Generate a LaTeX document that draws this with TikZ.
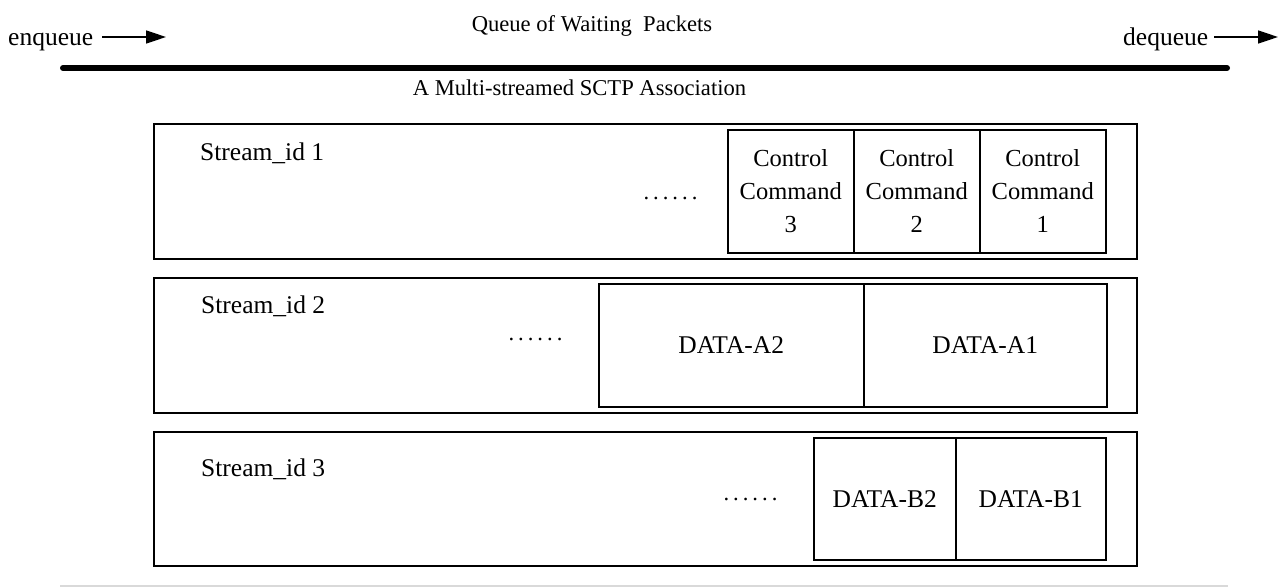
\documentclass[tikz,border=0pt]{standalone}
\usepackage{fontspec}
\setmainfont{Liberation Serif}
\usetikzlibrary{arrows.meta}

\newcommand\sixdots{.\kern4pt.\kern4pt.\kern4pt.\kern4pt.\kern4pt.}

\tikzset{
  lbl/.style={inner sep=0pt, font=\fontsize{22.6}{26}\selectfont},
  biglbl/.style={inner sep=0pt, font=\fontsize{25.5}{30}\selectfont},
  streambox/.style={draw, line width=1.8pt, anchor=north west, inner sep=0pt},
  pktbox/.style={draw, line width=1.5pt, anchor=north west, inner sep=0pt,
    align=center, font=\fontsize{25.5}{30}\selectfont},
  ctrlbox/.style={pktbox, font=\fontsize{24.5}{33}\selectfont},
  flowarrow/.style={line width=1.6pt, -{Triangle[length=20pt,width=13pt]}},
  trunk/.style={line width=6pt, line cap=round},
  rule/.style={draw=black!15, line width=1.2pt}
}

\begin{document}
\begin{tikzpicture}[x=1pt,y=-1pt]
\useasboundingbox (0,0) rectangle (1283,587);

% queue direction
\node[biglbl, anchor=base west] (enq) at (8,45) {enqueue};
\coordinate (enqEnd) at (166,37);
\draw[flowarrow] (enq.east |- enqEnd) ++(9,0) -- (enqEnd);
\node[biglbl, anchor=base west] (deq) at (1123,45) {dequeue};
\coordinate (deqEnd) at (1278,37);
\draw[flowarrow] (deq.east |- deqEnd) ++(6,0) -- (deqEnd);
\node[lbl, anchor=base] (title) at (592,31) {Queue of Waiting\ \ Packets};

% association trunk
\coordinate (trunkL) at (63,68);
\coordinate (trunkR) at (1227,68);
\draw[trunk] (trunkL) -- (trunkR);
\node[lbl, anchor=base] (assoc) at (579.5,95) {A Multi-streamed SCTP Association};

% stream 1
\node[streambox, minimum width=983pt, minimum height=135pt] (s1) at (153,123) {};
\node[biglbl, anchor=base west] (s1lbl) at (200,160) {Stream\_id 1};
\node[lbl, anchor=base] (s1dots) at (670.5,199) {\sixdots};
\node[ctrlbox, minimum width=126pt, minimum height=123pt] (c3) at (727,129) {Control\\Command\\3};
\node[ctrlbox, minimum width=126pt, minimum height=123pt] (c2) at (853,129) {Control\\Command\\2};
\node[ctrlbox, minimum width=126pt, minimum height=123pt] (c1) at (979,129) {Control\\Command\\1};

% stream 2
\node[streambox, minimum width=983pt, minimum height=135pt] (s2) at (153,277) {};
\node[biglbl, anchor=base west] (s2lbl) at (201,313) {Stream\_id 2};
\node[lbl, anchor=base] (s2dots) at (535.5,340) {\sixdots};
\node[pktbox, minimum width=265pt, minimum height=123pt] (a2) at (598,283) {DATA-A2};
\node[pktbox, minimum width=243pt, minimum height=123pt] (a1) at (863,283) {DATA-A1};

% stream 3
\node[streambox, minimum width=983pt, minimum height=134pt] (s3) at (153,431) {};
\node[biglbl, anchor=base west] (s3lbl) at (201,476) {Stream\_id 3};
\node[lbl, anchor=base] (s3dots) at (750.5,500) {\sixdots};
\node[pktbox, minimum width=142pt, minimum height=122pt] (b2) at (813,437) {DATA-B2};
\node[pktbox, minimum width=150pt, minimum height=122pt] (b1) at (955,437) {DATA-B1};

% bottom rule
\coordinate (ruleL) at (60,586);
\coordinate (ruleR) at (1228,586);
\draw[rule] (ruleL) -- (ruleR);
\end{tikzpicture}
\end{document}
